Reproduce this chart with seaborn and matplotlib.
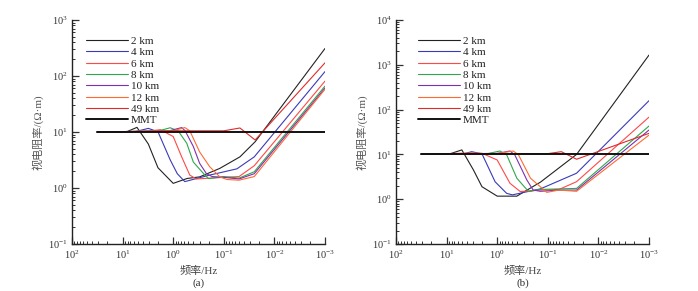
import matplotlib
matplotlib.use("Agg")
import matplotlib.pyplot as plt
import matplotlib.ticker as ticker
import seaborn as sns
import pandas as pd

# legend labels and colours
labels = ["2 km", "4 km", "6 km", "8 km", "10 km", "12 km", "49 km", "MMT"]
colors = ["#222222", "#3a3ab8", "#ff4848", "#2ea84a", "#7f2fb0", "#ff6a33", "#e02a2a", "#111111"]

# panel (a): frequency (Hz) / apparent resistivity (ohm m)
a_f_2km = [31.6, 8.3, 5.2, 3.1, 2.0, 1.0, 0.53, 0.3, 0.12, 0.048, 0.024, 0.001]
a_r_2km = [10, 10.1, 12.1, 6.1, 2.3, 1.21, 1.48, 1.58, 2.24, 3.6, 6.7, 310]
a_f_4km = [31.6, 5.5, 3.1, 2.0, 1.15, 0.83, 0.59, 0.19, 0.055, 0.025, 0.001]
a_r_4km = [10, 10.2, 11.6, 10.1, 3.2, 1.8, 1.3, 1.7, 2.2, 3.6, 120]
a_f_6km = [31.6, 3.2, 1.8, 1.0, 0.68, 0.47, 0.35, 0.1, 0.05, 0.025, 0.001]
a_r_6km = [10, 10.3, 11, 8.3, 3.6, 1.7, 1.45, 1.55, 1.6, 2.5, 81]
a_f_8km = [31.6, 2.0, 1.15, 0.8, 0.54, 0.4, 0.25, 0.2, 0.1, 0.05, 0.025, 0.001]
a_r_8km = [10, 10.4, 11.9, 10.5, 6.3, 2.9, 1.8, 1.47, 1.6, 1.5, 1.95, 66]
a_f_10km = [31.6, 1.2, 0.68, 0.58, 0.4, 0.3, 0.22, 0.17, 0.1, 0.05, 0.025, 0.001]
a_r_10km = [10, 10.5, 12, 10.5, 5.5, 2.75, 1.8, 1.6, 1.55, 1.45, 1.8, 61]
a_f_12km = [31.6, 1.0, 0.59, 0.47, 0.3, 0.19, 0.12, 0.087, 0.05, 0.025, 0.001]
a_r_12km = [10, 10.5, 12, 10.5, 4.4, 2.4, 1.58, 1.42, 1.38, 1.6, 58]
a_f_49km = [31.6, 3.2, 1.0, 0.1, 0.048, 0.024, 0.001]
a_r_49km = [10, 10.3, 10.5, 10.5, 11.8, 7.2, 172]
a_f_mmt = [31.6, 0.001]
a_r_mmt = [10, 10]

# panel (b)
b_f_2km = [31.6, 9.3, 5.0, 2.95, 2.0, 1.0, 0.41, 0.14, 0.027, 0.001]
b_r_2km = [10, 10, 12.6, 4.5, 1.9, 1.17, 1.17, 2.4, 10, 1650]
b_f_4km = [31.6, 5.0, 3.2, 2.0, 1.1, 0.65, 0.5, 0.14, 0.027, 0.001]
b_r_4km = [10, 10, 11.5, 10.3, 2.45, 1.35, 1.25, 1.7, 3.8, 158]
b_f_6km = [31.6, 3.2, 2.0, 1.0, 0.56, 0.35, 0.14, 0.06, 0.027, 0.001]
b_r_6km = [10, 10.8, 10.6, 7.5, 2.27, 1.48, 1.6, 1.65, 2.46, 68]
b_f_8km = [31.6, 1.5, 0.88, 0.65, 0.41, 0.24, 0.14, 0.06, 0.027, 0.001]
b_r_8km = [10, 10.5, 11.9, 9.8, 2.95, 1.48, 1.65, 1.7, 1.74, 43]
b_f_10km = [31.6, 1.0, 0.56, 0.45, 0.26, 0.195, 0.14, 0.06, 0.027, 0.001]
b_r_10km = [10, 10.5, 11.9, 9.8, 2.7, 1.6, 1.5, 1.6, 1.6, 35]
b_f_12km = [31.6, 1.0, 0.48, 0.38, 0.22, 0.105, 0.06, 0.027, 0.001]
b_r_12km = [10, 10.5, 11.9, 9.8, 2.95, 1.42, 1.6, 1.5, 27]
b_f_49km = [31.6, 1.0, 0.1, 0.054, 0.027, 0.001]
b_r_49km = [10, 10.3, 10.4, 11.5, 7.8, 29.5]
b_f_mmt = [31.6, 0.001]
b_r_mmt = [10, 10]

panel_a = [(a_f_2km, a_r_2km), (a_f_4km, a_r_4km), (a_f_6km, a_r_6km), (a_f_8km, a_r_8km),
           (a_f_10km, a_r_10km), (a_f_12km, a_r_12km), (a_f_49km, a_r_49km), (a_f_mmt, a_r_mmt)]
panel_b = [(b_f_2km, b_r_2km), (b_f_4km, b_r_4km), (b_f_6km, b_r_6km), (b_f_8km, b_r_8km),
           (b_f_10km, b_r_10km), (b_f_12km, b_r_12km), (b_f_49km, b_r_49km), (b_f_mmt, b_r_mmt)]

sns.set_theme(style="ticks")
plt.rcParams["font.family"] = ["Liberation Serif", "Noto Sans CJK SC"]
plt.rcParams["mathtext.fontset"] = "stix"
plt.rcParams["axes.unicode_minus"] = False

fig = plt.figure(figsize=(6.98, 2.91), dpi=100)
ax_a = fig.add_axes([72 / 698, 1 - 244 / 291, 253 / 698, 224 / 291])
ax_b = fig.add_axes([396 / 698, 1 - 244 / 291, 253 / 698, 224 / 291])


def draw_panel(ax, series, ymax, tag, leg_x):
    for (f, r), lab, col in zip(series, labels, colors):
        df = pd.DataFrame({"freq": f, "rho": r})
        lw = 1.4 if lab == "MMT" else 0.8
        sns.lineplot(data=df, x="freq", y="rho", ax=ax, color=col, lw=lw,
                     label=lab, sort=False, estimator=None)
    ax.set_xscale("log")
    ax.set_yscale("log")
    ax.set_xlim(100, 0.001)
    ax.set_ylim(0.1, ymax)
    for s in ["top", "right"]:
        ax.spines[s].set_visible(False)
    for s in ["left", "bottom"]:
        ax.spines[s].set_linewidth(1.0)
        ax.spines[s].set_color("#222222")
    ax.xaxis.set_major_locator(ticker.LogLocator(base=10, numticks=10))
    ax.xaxis.set_minor_locator(ticker.LogLocator(base=10, subs=range(2, 10), numticks=20))
    ax.yaxis.set_major_locator(ticker.LogLocator(base=10, numticks=10))
    ax.yaxis.set_minor_locator(ticker.LogLocator(base=10, subs=range(2, 10), numticks=20))
    ax.xaxis.set_minor_formatter(ticker.NullFormatter())
    ax.yaxis.set_minor_formatter(ticker.NullFormatter())
    ax.tick_params(which="major", direction="in", length=5, width=0.9, labelsize=7.5,
                   colors="#333333", pad=3)
    ax.tick_params(which="minor", direction="in", length=2.5, width=0.7, colors="#333333")
    ax.set_xlabel("频率/Hz", fontsize=8, color="#444444", labelpad=4)
    ax.set_ylabel("视电阻率/(Ω·m)", fontsize=8, color="#555555", labelpad=3)
    ax.text(0.5, -0.175, tag, transform=ax.transAxes, ha="center", va="center",
            fontsize=8, color="#333333")
    leg = ax.legend(loc="upper left", bbox_to_anchor=(leg_x, 0.948), frameon=False,
                    fontsize=8, handlelength=3.8, handletextpad=0.2,
                    labelspacing=0.14, borderaxespad=0)
    for t in leg.get_texts():
        t.set_color("#222222")


draw_panel(ax_a, panel_a, 1000, "(a)", 0.038)
draw_panel(ax_b, panel_b, 10000, "(b)", 0.07)

fig.savefig("out.png", dpi=100)
